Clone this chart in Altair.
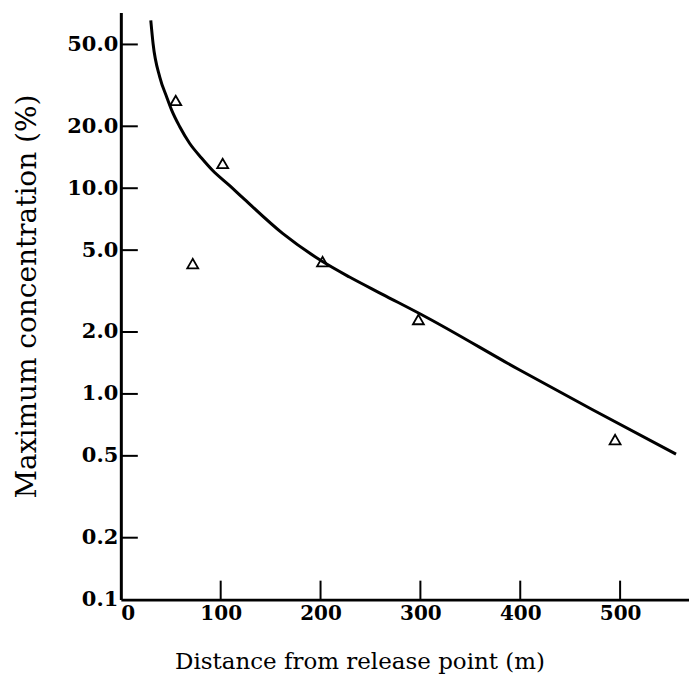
import altair as alt
import pandas as pd

# Observed data (triangles)
obs_x = [55, 72, 102, 202, 298, 495]
obs_y = [26.7, 4.3, 13.2, 4.4, 2.3, 0.6]

# Fitted curve
curve_x = [30, 32.3, 39, 46, 51, 59, 69, 81, 92, 109, 122, 162, 202, 229, 262, 306, 399, 472, 556]
curve_y = [65.4, 50.4, 34.7, 27.7, 23.9, 19.9, 16.5, 14.0, 12.2, 10.3, 9.0, 6.03, 4.4, 3.7, 3.05, 2.36, 1.31, 0.84, 0.51]

# Axis ticks
y_ticks = [0.1, 0.2, 0.5, 1.0, 2.0, 5.0, 10.0, 20.0, 50.0]
x_ticks = [0, 100, 200, 300, 400, 500]

W, H = 569, 588
FONT = "DejaVu Serif"

obs = pd.DataFrame({"x": obs_x, "y": obs_y})
curve = pd.DataFrame({"x": curve_x, "y": curve_y})
ytk = pd.DataFrame({"y": y_ticks[1:]})
xtk = pd.DataFrame({"x": x_ticks[1:]})

xscale = alt.Scale(domain=[0, 569], nice=False, zero=False)
yscale = alt.Scale(type="log", domain=[0.1, 71.5], nice=False)

xaxis = alt.Axis(
    values=x_ticks, format="d", ticks=False, grid=False,
    domainColor="black", domainWidth=3,
    labelFont=FONT, labelFontSize=20, labelFontWeight="bold", labelColor="black",
    labelPadding=4,
    title="Distance from release point (m)",
    titleFont=FONT, titleFontSize=23, titleFontWeight="normal", titleColor="black",
    titleX=239, titleY=62, titleBaseline="middle",
)
yaxis = alt.Axis(
    values=y_ticks, format=".1f", ticks=False, grid=False,
    domainColor="black", domainWidth=3,
    labelFont=FONT, labelFontSize=21, labelFontWeight="bold", labelColor="black",
    labelPadding=3,
    title="Maximum concentration (%)",
    titleFont=FONT, titleFontSize=28, titleFontWeight="normal", titleColor="black",
    titleX=-93, titleY=284, titleBaseline="middle", titleAngle=270,
)

line = alt.Chart(curve).mark_line(color="black", strokeWidth=3, interpolate="monotone").encode(
    x=alt.X("x:Q", scale=xscale, axis=xaxis),
    y=alt.Y("y:Q", scale=yscale, axis=yaxis),
)

pts = alt.Chart(obs).mark_point(shape="triangle-up", filled=False, color="black",
                                size=120, strokeWidth=1.8, opacity=1).encode(
    x=alt.X("x:Q", scale=xscale),
    y=alt.Y("y:Q", scale=yscale),
)

yt = alt.Chart(ytk).mark_rule(color="black", strokeWidth=2).encode(
    y=alt.Y("y:Q", scale=yscale),
    x=alt.value(0),
    x2=alt.value(17),
)

xt = alt.Chart(xtk).mark_rule(color="black", strokeWidth=2).encode(
    x=alt.X("x:Q", scale=xscale),
    y=alt.value(H),
    y2=alt.value(H - 19),
)

chart = alt.layer(line, pts, yt, xt).properties(
    width=W, height=H,
    autosize=alt.AutoSizeParams(type="none"),
    padding={"left": 113, "top": 4, "right": 0, "bottom": 80},
    background="white",
).configure_view(stroke=None)

chart.save("out.html", embed_options={"renderer": "svg", "actions": False})
